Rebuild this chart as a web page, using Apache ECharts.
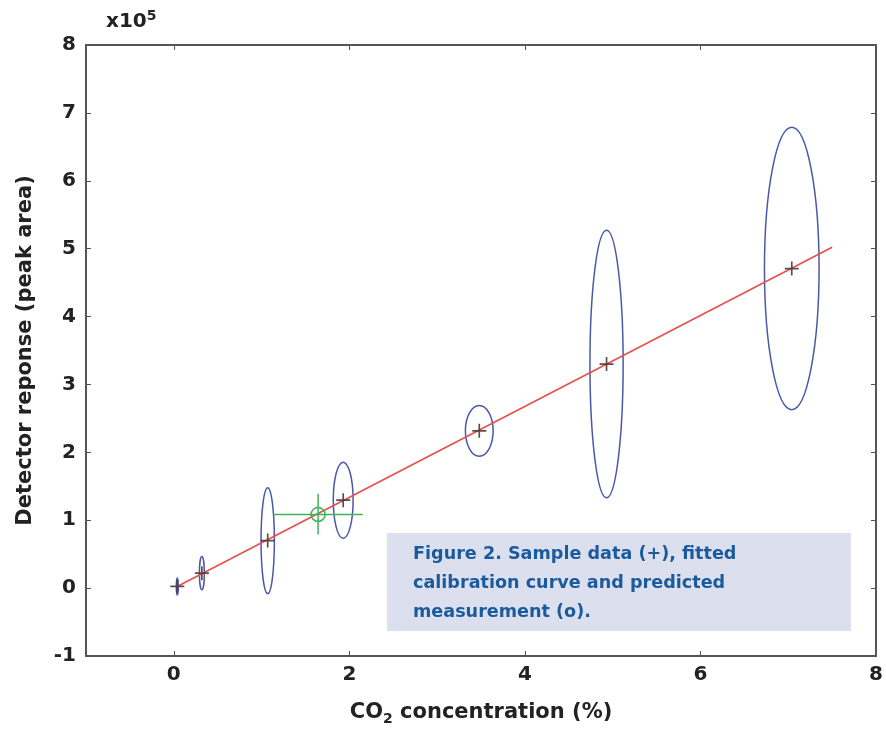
<!DOCTYPE html>
<html>
<head>
<meta charset="utf-8">
<script src="https://cdn.jsdelivr.net/npm/echarts@6/dist/echarts.min.js"></script>
<style>
  html, body { margin: 0; padding: 0; background: #fff; }
  #chart { width: 886px; height: 731px; }
</style>
</head>
<body>
<div id="chart"></div>
<script>
// calibration samples (CO2 %, peak area)
var sampleX = [0.04, 0.32, 1.07, 1.93, 3.48, 4.93, 7.04];
var sampleY = [2500, 22000, 70000, 129500, 231700, 330000, 470700];
// ellipse half widths / half heights (uncertainty)
var ellRx = [0.01, 0.028, 0.076, 0.113, 0.158, 0.189, 0.311];
var ellRy = [12500, 24500, 78000, 56000, 37400, 197000, 208000];
// fitted calibration line end points
var fitX = [0.05, 7.5];
var fitY = [3000, 502000];
// predicted measurement with error bars
var predX = 1.644, predY = 108500;
var predXRange = [1.135, 2.153];
var predYRange = [79000, 139000];

var xTickLabels = [0, 2, 4, 6, 8];
var xInnerTicks = [0, 2, 4, 6];

var axisColor = '#555';
var fontFam = 'DejaVu Sans, Verdana, sans-serif';

function initEcharts() {
    var myChart = echarts.init(document.getElementById('chart'));

    var ellipseData = sampleX.map(function (x, i) { return [x, sampleY[i], ellRx[i], ellRy[i]]; });
    var crossData = sampleX.map(function (x, i) { return [x, sampleY[i]]; });

    var option = {
        animation: false,
        grid: { left: 86, right: 4, top: 45, bottom: 73 },
        xAxis: [{
            type: 'value', min: -1, max: 8, interval: 1,
            name: 'CO{sub|2} concentration (%)',
            nameLocation: 'middle', nameGap: 44,
            nameTextStyle: {
                fontSize: 21, fontWeight: 'bold', color: '#222', fontFamily: fontFam,
                rich: { sub: { fontSize: 14, fontWeight: 'bold', color: '#222', fontFamily: fontFam, verticalAlign: 'bottom', padding: [12, 0, 0, 0] } }
            },
            axisLine: { show: true, onZero: false, lineStyle: { color: axisColor, width: 2 } },
            axisTick: { show: true, inside: true, length: 5, lineStyle: { color: axisColor }, customValues: xInnerTicks },
            axisLabel: { fontSize: 20, fontWeight: 'bold', color: '#222', fontFamily: fontFam, margin: 9, customValues: xTickLabels },
            splitLine: { show: false }
        }, {
            type: 'value', min: -1, max: 8, position: 'top',
            axisLine: { show: true, onZero: false, lineStyle: { color: axisColor, width: 2 } },
            axisTick: { show: true, inside: true, length: 5, lineStyle: { color: axisColor }, customValues: xInnerTicks },
            axisLabel: { show: false },
            splitLine: { show: false }
        }],
        yAxis: [{
            type: 'value', min: -100000, max: 800000, interval: 100000,
            name: 'Detector reponse (peak area)',
            nameLocation: 'middle', nameGap: 50,
            nameTextStyle: { fontSize: 21, fontWeight: 'bold', color: '#222', fontFamily: fontFam },
            axisLine: { show: true, onZero: false, lineStyle: { color: axisColor, width: 2 } },
            axisTick: { show: true, inside: true, length: 5, lineStyle: { color: axisColor } },
            axisLabel: { fontSize: 20, fontWeight: 'bold', color: '#222', fontFamily: fontFam, margin: 10,
                formatter: function (v) { return String(Math.round(v / 100000)); } },
            splitLine: { show: false }
        }, {
            type: 'value', min: -100000, max: 800000, interval: 100000, position: 'right',
            axisLine: { show: true, onZero: false, lineStyle: { color: axisColor, width: 2 } },
            axisTick: { show: true, inside: true, length: 5, lineStyle: { color: axisColor } },
            axisLabel: { show: false },
            splitLine: { show: false }
        }],
        graphic: [{
            type: 'text', left: 106, top: 9,
            style: {
                text: 'x10{sup|5}', fontSize: 20, fontWeight: 'bold', fill: '#222', fontFamily: fontFam,
                rich: { sup: { fontSize: 14, fontWeight: 'bold', fill: '#222', fontFamily: fontFam, padding: [0, 0, 12, 0] } }
            }
        }, {
            type: 'rect', left: 387, top: 533, z: 10,
            shape: { width: 464, height: 98 },
            style: { fill: '#dce0ee' }
        }, {
            type: 'text', left: 413, top: 540, z: 11,
            style: {
                text: 'Figure 2. Sample data (+), fitted\ncalibration curve and predicted\nmeasurement (o).',
                fontSize: 17.6, fontWeight: 'bold', fill: '#1b5a9c', lineHeight: 29, fontFamily: fontFam
            }
        }],
        series: [{
            name: 'fit',
            type: 'line',
            data: fitX.map(function (x, i) { return [x, fitY[i]]; }),
            symbol: 'none',
            lineStyle: { color: '#e4504c', width: 1.6 },
            z: 3
        }, {
            name: 'ellipses',
            type: 'custom',
            data: ellipseData,
            renderItem: function (params, api) {
                var c = api.coord([api.value(0), api.value(1)]);
                var s = api.size([api.value(2), api.value(3)]);
                return {
                    type: 'ellipse',
                    shape: { cx: c[0], cy: c[1], rx: Math.max(s[0], 1), ry: s[1] },
                    style: { fill: 'none', stroke: '#4a58a6', lineWidth: 1.5 }
                };
            },
            z: 2
        }, {
            name: 'prediction',
            type: 'custom',
            data: [[predX, predY, predXRange[0], predXRange[1], predYRange[0], predYRange[1]]],
            renderItem: function (params, api) {
                var c = api.coord([api.value(0), api.value(1)]);
                var l = api.coord([api.value(2), api.value(1)]);
                var r = api.coord([api.value(3), api.value(1)]);
                var lo = api.coord([api.value(0), api.value(4)]);
                var hi = api.coord([api.value(0), api.value(5)]);
                var st = { stroke: '#3cb45a', lineWidth: 1.5, fill: 'none' };
                return {
                    type: 'group',
                    children: [
                        { type: 'line', shape: { x1: l[0], y1: l[1], x2: r[0], y2: r[1] }, style: st },
                        { type: 'line', shape: { x1: lo[0], y1: lo[1], x2: hi[0], y2: hi[1] }, style: st },
                        { type: 'circle', shape: { cx: c[0], cy: c[1], r: 7 }, style: st }
                    ]
                };
            },
            z: 4
        }, {
            name: 'samples',
            type: 'scatter',
            data: crossData,
            symbol: 'path://M0,4.4h10v1.2h-10z M4.4,0h1.2v10h-1.2z',
            symbolSize: 14,
            itemStyle: { color: '#4a3a36', opacity: 0.9 },
            z: 5
        }]
    };

    myChart.setOption(option);
    resize(myChart);
}

// 响应式
function resize(echart) {
    window.onresize = function () {
        echart.resize();
    };
}

initEcharts();
</script>
</body>
</html>
